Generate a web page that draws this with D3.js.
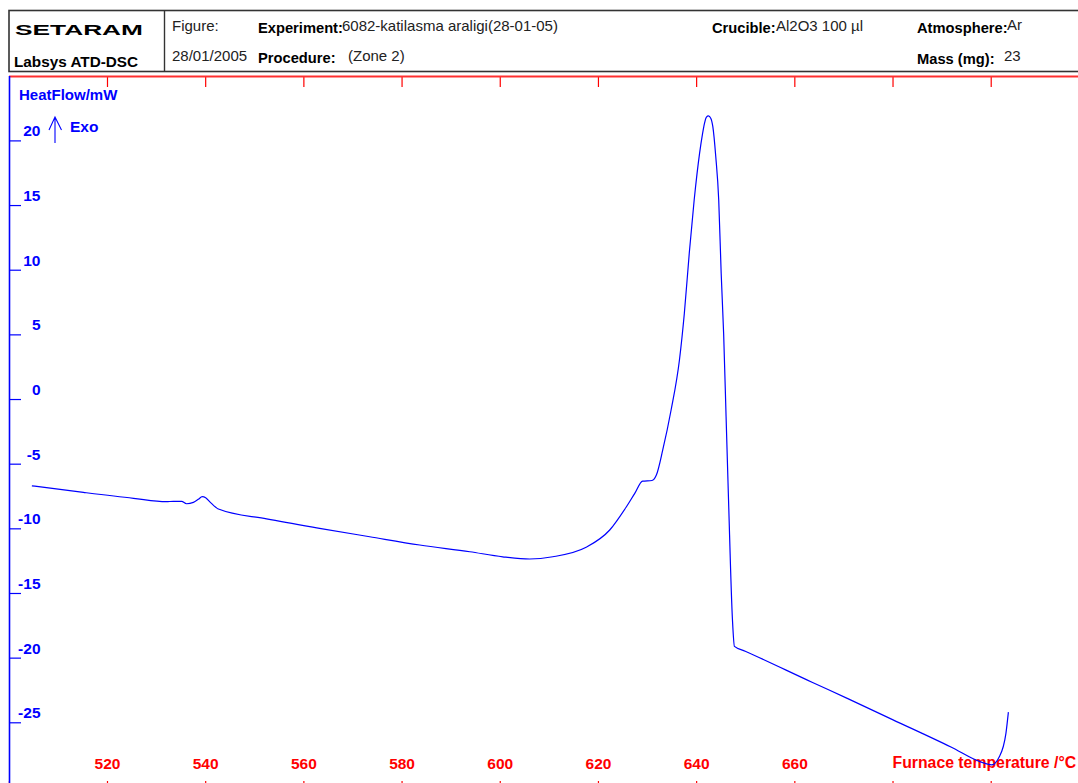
<!DOCTYPE html>
<html>
<head>
<meta charset="utf-8">
<script src="https://cdn.jsdelivr.net/npm/d3@7"></script>
<style>
  body { margin: 0; background: white; }
  text { font-family: "Liberation Sans", Arial, sans-serif; }
</style>
</head>
<body>
<div id="container"></div>
<script>
// furnace temperature (°C) and heat flow (mW)
let temperature = [504.7, 515.2, 525.4, 532.1, 533.5, 535.2, 536.2, 537.6, 538.6, 539.4,
  540.1, 541.0, 542.7, 552.5, 563.3, 573.5, 583.7, 593.9, 600.6, 606.1,
  610.8, 617.6, 622.4, 625.8, 627.5, 629.1, 631.0, 631.9, 633.2, 634.9,
  636.6, 637.6, 638.6, 639.6, 640.7, 641.3, 641.7, 642.1, 642.5, 643.0,
  643.4, 644.0, 644.6, 645.1, 645.6, 646.1, 646.6, 647.4, 647.8, 650.0,
  663.6, 671.0, 680.0, 691.9, 698.2, 700.2, 701.7, 703.1, 703.6];
let heatFlow = [-6.71, -7.22, -7.68, -7.94, -7.91, -7.91, -8.10, -7.99, -7.76, -7.55,
  -7.63, -7.97, -8.51, -9.27, -10.0, -10.65, -11.29, -11.81, -12.2, -12.37,
  -12.2, -11.47, -10.13, -8.33, -7.3, -6.35, -6.3, -5.88, -3.94, -0.85,
  3.02, 6.63, 11.27, 15.39, 19.0, 20.5, 21.32, 21.8, 21.89, 21.7,
  21.06, 18.74, 15.39, 9.72, 5.08, -1.37, -7.81, -17.09, -19.13, -19.5,
  -21.9, -23.19, -24.79, -26.91, -28.1, -28.29, -27.71, -25.85, -24.21];

let xTicks = [520, 540, 560, 580, 600, 620, 640, 660, 680, 700];
let xTickLabels = ["520", "540", "560", "580", "600", "620", "640", "660", "", ""];
let yTicks = [20, 15, 10, 5, 0, -5, -10, -15, -20, -25];

let headerLabels = ["Figure:", "Experiment:", "Crucible:", "Atmosphere:", "Procedure:", "Mass (mg):"];
let headerValues = ["28/01/2005", "6082-katilasma araligi(28-01-05)", "Al2O3 100 µl", "Ar", "(Zone 2)", "23"];

let w = 1078;
let h = 783;

let viz = d3.select("#container")
  .append("svg")
    .attr("width", w)
    .attr("height", h)
    .style("background-color", "white")
;

// header box
let header = viz.append("g").attr("class", "header");
header.append("rect")
  .attr("x", 9).attr("y", 10.5)
  .attr("width", 1080).attr("height", 61)
  .attr("fill", "none")
  .attr("stroke", "#333")
  .attr("stroke-width", 1.6)
;
header.append("line")
  .attr("x1", 164.5).attr("x2", 164.5)
  .attr("y1", 10.5).attr("y2", 71.5)
  .attr("stroke", "#333")
  .attr("stroke-width", 1.4)
;
header.append("text")
  .text("SETARAM")
  .attr("x", 15).attr("y", 35)
  .attr("font-family", "DejaVu Sans, sans-serif")
  .attr("font-weight", "bold")
  .attr("font-size", "14px")
  .attr("textLength", 128)
  .attr("lengthAdjust", "spacingAndGlyphs")
  .attr("fill", "black")
;
header.append("text")
  .text("Labsys ATD-DSC")
  .attr("x", 14).attr("y", 67)
  .attr("font-weight", "bold")
  .attr("font-size", "15.3px")
  .attr("fill", "black")
;

function headerText(str, x, y, bold){
  header.append("text")
    .text(str)
    .attr("x", x).attr("y", y)
    .attr("font-weight", bold ? "bold" : "normal")
    .attr("font-size", bold ? "14.7px" : "15px")
    .attr("fill", bold ? "black" : "#222")
  ;
}
headerText(headerLabels[0], 172, 31, false);
headerText(headerValues[0], 172, 61, false);
headerText(headerLabels[1], 258, 33, true);
headerText(headerValues[1], 342, 31, false);
headerText(headerLabels[2], 712, 33, true);
headerText(headerValues[2], 776, 31, false);
headerText(headerLabels[3], 917, 33, true);
headerText(headerValues[3], 1007, 30, false);
headerText(headerLabels[4], 258, 63, true);
headerText(headerValues[4], 348, 61, false);
headerText(headerLabels[5], 917, 64, true);
headerText(headerValues[5], 1004, 61, false);

// scales
let xScale = d3.scaleLinear().domain([500, 720]).range([8.8, 1088.9]);
let yScale = d3.scaleLinear().domain([-25, 20]).range([722.3, 140.4]);

// top red axis
let topAxis = d3.axisBottom(xScale).tickValues(xTicks).tickSize(11).tickFormat("");
let topAxisGroup = viz.append("g").attr("class", "topaxis")
  .attr("transform", "translate(0, 76)")
  .call(topAxis);
topAxisGroup.select(".domain").remove();
topAxisGroup.selectAll("line").attr("stroke", "red").attr("stroke-width", 1.2);
viz.append("line")
  .attr("x1", 9).attr("x2", w)
  .attr("y1", 76.5).attr("y2", 76.5)
  .attr("stroke", "#ff3030")
  .attr("stroke-width", 2)
;

// bottom red axis (line sits just below the picture)
let bottomAxis = d3.axisTop(xScale).tickValues(xTicks).tickSize(9).tickPadding(12)
  .tickFormat(function(d, i){ return xTickLabels[i]; });
let bottomAxisGroup = viz.append("g").attr("class", "xaxis")
  .attr("transform", "translate(0, 790)")
  .call(bottomAxis);
bottomAxisGroup.select(".domain").attr("stroke", "red");
bottomAxisGroup.selectAll("line").attr("stroke", "red").attr("stroke-width", 1.2);
bottomAxisGroup.selectAll("text")
  .attr("fill", "red")
  .attr("font-family", "Liberation Sans, Arial, sans-serif")
  .attr("font-weight", "bold")
  .attr("font-size", "15.5px")
;
viz.append("text")
  .text("Furnace temperature /°C")
  .attr("x", xScale(680))
  .attr("y", 768)
  .attr("fill", "red")
  .attr("font-weight", "bold")
  .attr("font-size", "15.8px")
;

// left blue axis
let yAxis = d3.axisRight(yScale).tickValues(yTicks).tickSize(11.5).tickFormat("");
let yAxisGroup = viz.append("g").attr("class", "yaxis")
  .attr("transform", "translate(9.5, 0)")
  .call(yAxis);
yAxisGroup.select(".domain").remove();
yAxisGroup.selectAll("line").attr("stroke", "blue").attr("stroke-width", 1.2);
viz.append("line")
  .attr("x1", 9.5).attr("x2", 9.5)
  .attr("y1", 76).attr("y2", h)
  .attr("stroke", "blue")
  .attr("stroke-width", 1.6)
;
viz.append("g").attr("class", "ylabels")
  .selectAll("text")
  .data(yTicks)
  .enter()
  .append("text")
    .text(function(d){ return d; })
    .attr("x", 40.5)
    .attr("y", function(d){ return yScale(d) - 4; })
    .attr("text-anchor", "end")
    .attr("fill", "blue")
    .attr("font-weight", "bold")
    .attr("font-size", "15.5px")
;
viz.append("text")
  .text("HeatFlow/mW")
  .attr("x", 19).attr("y", 100)
  .attr("fill", "blue")
  .attr("font-weight", "bold")
  .attr("font-size", "15px")
;
// exo arrow
viz.append("path")
  .attr("d", "M55,143 L55,117 M49,130 L55,117 L61.5,130")
  .attr("fill", "none")
  .attr("stroke", "blue")
  .attr("stroke-width", 1.1)
;
viz.append("text")
  .text("Exo")
  .attr("x", 70).attr("y", 132)
  .attr("fill", "blue")
  .attr("font-weight", "bold")
  .attr("font-size", "15.5px")
;

// curve
let points = temperature.map(function(t, i){
  return {t: t, v: heatFlow[i]};
});
let line = d3.line()
  .x(function(d){ return xScale(d.t); })
  .y(function(d){ return yScale(d.v); })
  .curve(d3.curveMonotoneX);

viz.append("path")
  .datum(points)
  .attr("d", line)
  .attr("fill", "none")
  .attr("stroke", "blue")
  .attr("stroke-width", 1.2)
;
</script>
</body>
</html>
